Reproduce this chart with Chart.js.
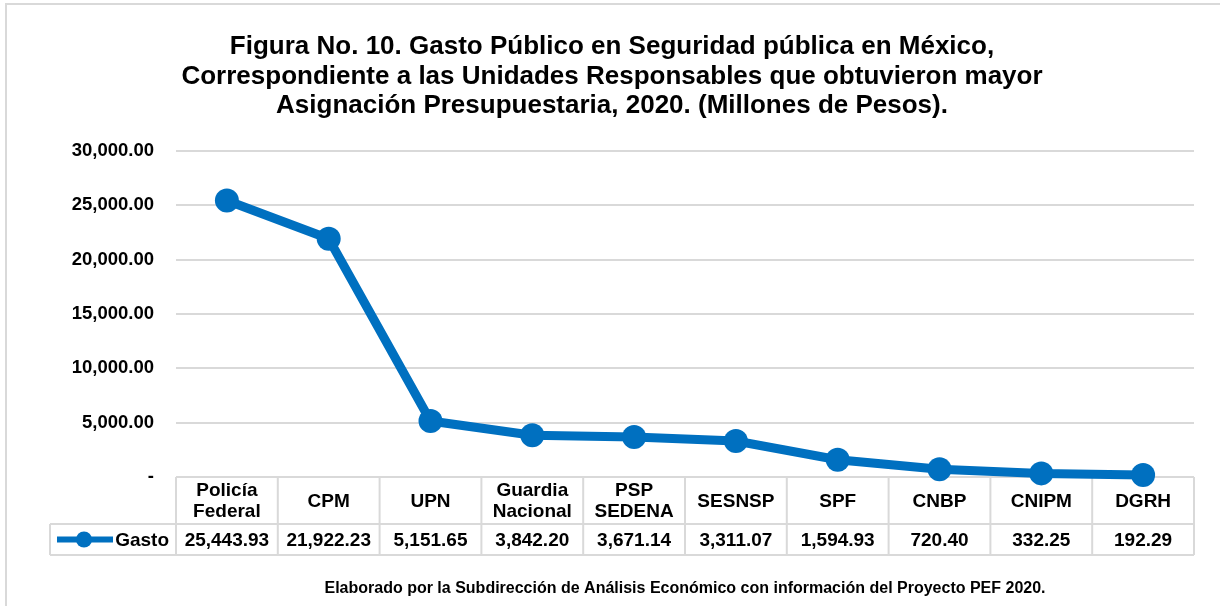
<!DOCTYPE html>
<html lang="es">
<head>
  <meta charset="UTF-8" />
  <title>Gasto Público en Seguridad pública en México, 2020</title>
  <style>
    body {
      margin: 0;
      background: #fff;
    }
    #wrap {
      width: 1220px;
      height: 606px;
    }
  </style>
  <script src="https://cdn.jsdelivr.net/npm/chart.js"></script>
</head>
<body>
  <div id="wrap">
    <canvas id="gastoChart" width="1220" height="606"></canvas>
  </div>

  <script>
    // datos
    const categories = ['Policía Federal', 'CPM', 'UPN', 'Guardia Nacional', 'PSP SEDENA',
                        'SESNSP', 'SPF', 'CNBP', 'CNIPM', 'DGRH'];
    const gasto = [25443.93, 21922.23, 5151.65, 3842.20, 3671.14, 3311.07, 1594.93, 720.40, 332.25, 192.29];
    const yTicks = [0, 5000, 10000, 15000, 20000, 25000, 30000];
    const seriesName = 'Gasto';

    const titleLines = [
      'Figura No. 10. Gasto Público en Seguridad pública en México,',
      'Correspondiente a las Unidades Responsables que obtuvieron mayor',
      'Asignación Presupuestaria, 2020. (Millones de Pesos).'
    ];
    const footNote = 'Elaborado por la Subdirección de Análisis Económico con información del Proyecto PEF 2020.';

    const blue = '#0070C0';
    const gridGray = '#d9d9d9';
    const FONT = 'Arial, "Liberation Sans", sans-serif';

    const fmt = v => v.toLocaleString('en-US', { minimumFractionDigits: 2, maximumFractionDigits: 2 });

    // tabla de datos bajo el eje x (estilo Excel)
    const dataTable = {
      id: 'dataTable',
      beforeDraw(chart) {
        const ctx = chart.ctx;
        ctx.save();
        ctx.strokeStyle = gridGray;
        ctx.lineWidth = 2;
        ctx.strokeRect(6, 4, 1400, 800);
        ctx.restore();
      },
      beforeDatasetsDraw(chart) {
        const ctx = chart.ctx;
        const xs = chart.scales.x;
        const area = chart.chartArea;
        const top = area.bottom;
        const mid = top + 47;
        const bottom = top + 78;
        const legendLeft = 50;
        const step = (area.right - area.left) / categories.length;

        ctx.save();
        ctx.strokeStyle = gridGray;
        ctx.lineWidth = 2;
        ctx.beginPath();
        ctx.moveTo(area.left, top); ctx.lineTo(area.right, top);
        ctx.moveTo(legendLeft, mid); ctx.lineTo(area.right, mid);
        ctx.moveTo(legendLeft, bottom); ctx.lineTo(area.right, bottom);
        ctx.moveTo(legendLeft, mid); ctx.lineTo(legendLeft, bottom);
        for (let i = 0; i <= categories.length; i++) {
          const x = area.left + i * step;
          ctx.moveTo(x, top); ctx.lineTo(x, bottom);
        }
        ctx.stroke();

        ctx.fillStyle = '#000';
        ctx.textAlign = 'center';
        ctx.textBaseline = 'middle';
        ctx.font = 'bold 19px ' + FONT;
        categories.forEach((c, i) => {
          const cx = xs.getPixelForValue(i);
          const lines = c.split(' ');
          const cy = (top + mid) / 2 + 1;
          lines.forEach((l, k) => {
            ctx.fillText(l, cx, cy + (k - (lines.length - 1) / 2) * 21);
          });
          ctx.fillText(fmt(gasto[i]), cx, (mid + bottom) / 2 + 1);
        });

        // leyenda de la serie
        const ly = (mid + bottom) / 2;
        ctx.strokeStyle = blue;
        ctx.lineWidth = 6;
        ctx.beginPath();
        ctx.moveTo(57, ly); ctx.lineTo(113, ly);
        ctx.stroke();
        ctx.fillStyle = blue;
        ctx.beginPath();
        ctx.arc(84, ly, 8, 0, Math.PI * 2);
        ctx.fill();
        ctx.fillStyle = '#000';
        ctx.textAlign = 'right';
        ctx.fillText(seriesName, area.left - 7, ly + 1);

        ctx.font = 'bold 16px ' + FONT;
        ctx.textAlign = 'center';
        ctx.fillText(footNote, 685, 589);
        ctx.restore();
      }
    };

    const ctx = document.getElementById('gastoChart').getContext('2d');
    new Chart(ctx, {
      type: 'line',
      data: {
        labels: categories,
        datasets: [{
          label: seriesName,
          data: gasto,
          borderColor: blue,
          backgroundColor: blue,
          borderWidth: 9,
          pointRadius: 12,
          pointHoverRadius: 12,
          pointBorderWidth: 0,
          tension: 0,
          clip: false
        }]
      },
      options: {
        responsive: false,
        animation: false,
        layout: { padding: { left: 4, right: 0, top: 0, bottom: 51 } },
        plugins: {
          legend: { display: false },
          tooltip: { enabled: false },
          title: {
            display: true,
            text: titleLines,
            color: '#000',
            font: { family: FONT, size: 26, weight: 'bold', lineHeight: 1.14 },
            padding: { top: 32, bottom: 30 }
          }
        },
        scales: {
          x: {
            type: 'category',
            offset: true,
            grid: { display: false },
            border: { display: false },
            ticks: { display: false },
            afterFit: s => { s.height = 78; }
          },
          y: {
            min: 0,
            max: 30000,
            afterFit: s => { s.width = 172; },
            afterBuildTicks: s => { s.ticks = yTicks.map(v => ({ value: v })); },
            grid: { color: gridGray, lineWidth: 2, drawTicks: false },
            border: { display: false },
            ticks: {
              padding: 22,
              color: '#000',
              font: { family: FONT, size: 18.5, weight: 'bold' },
              callback: v => v === 0 ? '-' : fmt(v)
            }
          },
          // eje vacio a la derecha, solo reserva el margen
          yRight: {
            position: 'right',
            grid: { display: false },
            border: { display: false },
            ticks: { display: false },
            afterFit: s => { s.width = 26; }
          }
        }
      },
      plugins: [dataTable]
    });
  </script>
</body>
</html>
